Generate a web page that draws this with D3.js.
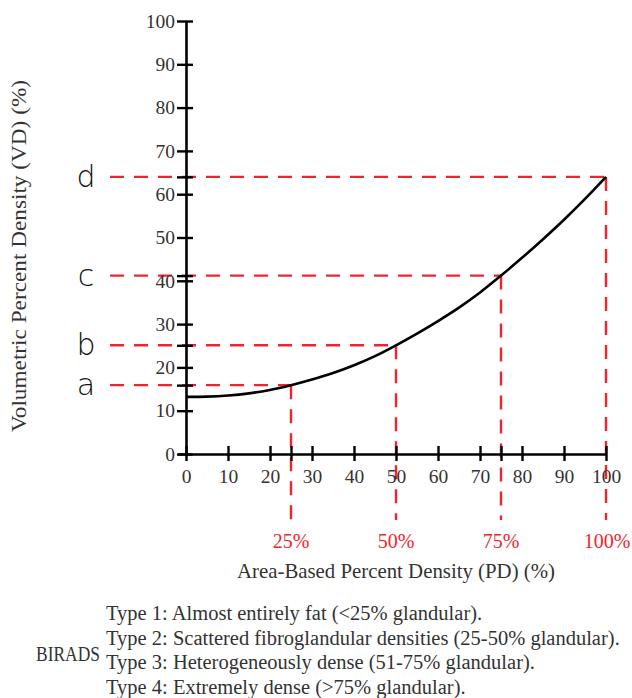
<!DOCTYPE html>
<html><head><meta charset="utf-8">
<script src="https://cdn.jsdelivr.net/npm/d3@7"></script>
<style>body{margin:0;background:#fff}</style>
</head><body>
<script>
const curvePD = [0,5,10,15,20,25,30,35,40,45,50,55,60,65,70,75,80,85,90,95,100];
const curveVD = [13.2,13.25,13.5,14.0,14.8,15.9,17.2,18.7,20.5,22.6,25.1,27.8,30.7,33.8,37.3,41.2,45.3,49.6,54.1,58.9,64.0];
const markPD = [25,50,75,100];
const markVD = [15.9,25.1,41.2,64.0];
const markLetters = ["a","b","c","d"];
const markLabels = ["25%","50%","75%","100%"];
const xTicks = [0,10,20,30,40,50,60,70,80,90,100];
const yTicks = [0,10,20,30,40,50,60,70,80,90,100];
const biradsLines = [
 "Type 1: Almost entirely fat (<25% glandular).",
 "Type 2: Scattered fibroglandular densities (25-50% glandular).",
 "Type 3: Heterogeneously dense (51-75% glandular).",
 "Type 4: Extremely dense (>75% glandular)."
];

const W=632,H=698;
const svg=d3.select("body").append("svg").attr("width",W).attr("height",H);
const x=d3.scaleLinear().domain([0,100]).range([186,606]);
const y=d3.scaleLinear().domain([0,100]).range([454,21]);
const red="#f0242e", txt="#333", serif="'Liberation Serif','Times New Roman',serif";

// red dashed guides
const g=svg.append("g");
markPD.forEach((p,i)=>{
  g.append("line").attr("x1",110).attr("x2",x(p)).attr("y1",y(markVD[i])).attr("y2",y(markVD[i]))
   .attr("stroke",red).attr("stroke-width",2.4).attr("stroke-dasharray","14,10");
  g.append("line").attr("x1",x(p)).attr("x2",x(p)).attr("y1",y(markVD[i])).attr("y2",520)
   .attr("stroke",red).attr("stroke-width",2.4).attr("stroke-dasharray","14,10");
  svg.append("text").attr("x",x(p)+(i==3?1:0)).attr("y",548).attr("text-anchor","middle")
   .attr("font-family",serif).attr("font-size",20).attr("fill",red).text(markLabels[i]);
  svg.append("text").attr("x",86).attr("y",y(markVD[i])+10).attr("text-anchor","middle")
   .attr("font-family","'DejaVu Sans',sans-serif").attr("font-weight",200).attr("font-size",30).attr("fill","#111").text(markLetters[i]);
});

// axes
const yAxis=d3.axisLeft(y).tickValues(yTicks.concat(markVD)).tickSizeInner(9).tickSizeOuter(0).tickPadding(2)
  .tickFormat(d=>yTicks.includes(d)?d:"");
const ya=svg.append("g").attr("transform","translate(186,0)").call(yAxis);
const xAxis=d3.axisBottom(x).tickValues(xTicks.concat([25,75])).tickSizeInner(8).tickSizeOuter(0).tickPadding(7)
  .tickFormat(d=>xTicks.includes(d)?d:"");
const xa=svg.append("g").attr("transform","translate(0,454)").call(xAxis);
[ya,xa].forEach(a=>{
  a.select(".domain").attr("stroke","#000").attr("stroke-width",2.6);
  a.selectAll(".tick line").attr("stroke","#000").attr("stroke-width",2.4);
  a.selectAll(".tick text").attr("font-family",serif).attr("font-size",19.5).attr("fill",txt);
});
ya.selectAll(".tick line").attr("x2",7).attr("x1",-9);
xa.selectAll(".tick line").attr("y1",-8).attr("y2",7);
xa.select(".domain").attr("d","M178,0.5H606");
ya.select(".domain").attr("d","M0.5,454H0.5V21");

// curve
const pts=curvePD.map((p,i)=>[p,curveVD[i]]);
svg.append("path").datum(pts).attr("fill","none").attr("stroke","#000").attr("stroke-width",2.6)
  .attr("d",d3.line().x(d=>x(d[0])).y(d=>y(d[1])).curve(d3.curveCatmullRom));

// titles
svg.append("text").attr("transform","translate(26,256) rotate(-90)").attr("text-anchor","middle")
  .attr("font-family",serif).attr("font-size",21).attr("fill",txt)
  .attr("textLength",352).attr("lengthAdjust","spacingAndGlyphs").text("Volumetric Percent Density (VD) (%)");
svg.append("text").attr("x",396).attr("y",578).attr("text-anchor","middle")
  .attr("font-family",serif).attr("font-size",21).attr("fill",txt)
  .attr("textLength",318).attr("lengthAdjust","spacingAndGlyphs").text("Area-Based Percent Density (PD) (%)");

// BIRADS
svg.append("text").attr("x",36).attr("y",661).attr("font-family",serif).attr("font-size",21.5).attr("fill",txt)
  .attr("textLength",64).attr("lengthAdjust","spacingAndGlyphs").text("BIRADS");
biradsLines.forEach((t,i)=>{
  svg.append("text").attr("x",106).attr("y",620+i*24.7).attr("font-family",serif).attr("font-size",20.5).attr("fill",txt).text(t);
});
</script>
</body></html>
